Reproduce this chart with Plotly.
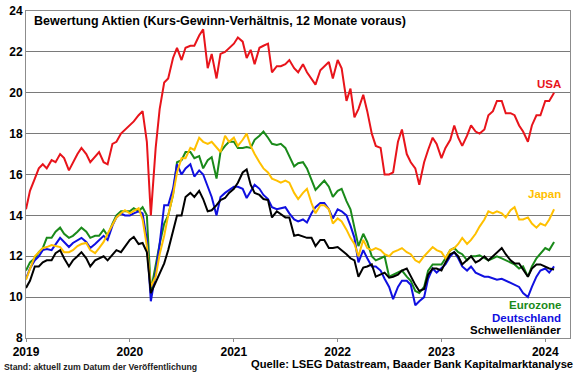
import plotly.graph_objects as go

# semi-monthly observation dates (1st and 15th), Jan 2019 .. Feb 2024
dates = []
for yr in range(2019, 2025):
    for mo in range(1, 13):
        for dd in (1, 15):
            d = f"{yr}-{mo:02d}-{dd:02d}"
            if d <= "2024-02-01":
                dates.append(d)

usa = [14.3, 15.2, 15.8, 16.3, 16.5, 16.3, 16.7, 16.6, 17.0, 16.8, 16.2, 16.6, 17.0, 17.3, 17.0, 16.6,
       16.9, 17.1, 16.6, 16.5, 17.5, 17.6, 18.0, 18.2, 18.4, 18.6, 18.9, 19.1, 17.6, 14.0, 17.3, 19.2,
       20.5, 20.7, 21.7, 22.2, 21.6, 22.2, 22.3, 22.3, 22.8, 23.1, 21.2, 21.9, 20.7, 21.9, 22.0, 22.2,
       22.4, 22.7, 22.5, 21.7, 22.1, 21.4, 22.2, 22.3, 22.4, 21.0, 21.3, 21.3, 21.4, 21.6, 21.2, 21.0,
       21.4, 21.0, 20.7, 20.4, 21.1, 21.3, 21.5, 20.7, 21.6, 21.2, 19.6, 20.2, 18.8, 19.2, 19.9, 19.1,
       18.0, 17.4, 17.3, 16.0, 16.0, 16.1, 17.6, 18.2, 17.0, 16.6, 16.3, 15.5, 16.6, 17.2, 17.8, 17.5,
       16.8, 17.3, 17.7, 18.4, 17.8, 17.4, 17.9, 18.4, 18.1, 18.0, 18.2, 18.9, 19.1, 19.6, 19.6, 19.0,
       19.0, 18.9, 18.4, 18.1, 17.6, 18.4, 18.9, 18.9, 19.6, 19.6, 20.0]

japan = [10.85, 11.4, 12.0, 12.2, 12.4, 12.45, 12.55, 12.5, 12.45, 12.2, 12.2, 12.3, 12.5, 12.6, 12.65, 12.3,
         12.15, 12.4, 12.7, 13.1, 13.5, 13.9, 14.1, 14.25, 14.1, 14.2, 14.35, 13.8, 12.5, 10.5, 11.0, 12.1,
         13.0, 14.0, 15.0, 16.1, 16.8, 16.8, 17.3, 17.2, 17.8, 17.6, 17.5, 17.6, 17.3, 17.1, 17.9, 17.6,
         17.8, 17.4, 17.7, 18.0, 17.4, 17.0, 16.6, 16.3, 16.1, 15.8, 15.7, 15.6, 15.7, 15.6, 15.1, 14.8,
         15.1, 15.3, 14.6, 14.1, 14.5, 14.5, 14.3, 13.6, 13.85, 13.7, 13.3, 12.9, 12.6, 12.0, 12.8, 12.4,
         12.3, 12.4, 12.3, 12.1, 12.0, 12.2, 12.3, 12.4, 12.2, 12.1, 11.8, 11.7, 12.0, 12.2, 12.45, 12.3,
         12.2, 11.9, 12.3, 12.4, 12.6, 12.9, 12.6, 12.8, 13.1, 13.45, 13.8, 14.2, 14.1, 14.2, 14.1, 13.9,
         14.25, 14.4, 13.8, 13.8, 13.9, 13.6, 13.4, 13.6, 13.5, 13.8, 14.3]

eurozone = [11.3, 11.7, 11.9, 12.2, 12.4, 12.9, 12.9, 13.2, 13.4, 13.1, 12.9, 13.0, 13.2, 13.4, 13.2, 12.9,
            13.0, 13.0, 13.3, 13.0, 13.6, 14.0, 14.2, 14.2, 14.2, 14.35, 14.2, 14.4, 14.0, 10.3, 11.6, 12.6,
            13.6, 14.0, 15.0, 16.6, 16.7, 17.1, 17.1, 16.8, 16.9, 16.3, 16.7, 16.85, 15.8, 17.1, 17.4, 17.6,
            17.6, 17.3, 17.3, 17.35, 17.3, 17.7, 17.9, 18.1, 17.8, 17.5, 17.45, 17.5, 17.3, 16.9, 16.4, 16.55,
            16.6, 16.3, 15.7, 15.25, 15.5, 15.7, 15.4, 14.9, 15.2, 15.3, 14.7, 14.3, 13.4, 12.5, 13.1, 12.7,
            12.0, 11.8, 11.9, 12.0, 11.0, 11.1, 11.2, 11.3, 11.0, 10.8, 10.3, 10.2, 10.5, 11.3, 11.6, 11.6,
            11.6, 11.9, 12.3, 12.4, 12.2, 12.1, 11.8, 12.0, 12.0, 12.05, 11.9, 11.8, 11.9, 12.0, 11.9, 11.8,
            11.7, 11.6, 11.4, 11.5, 11.0, 11.5, 11.9, 12.15, 12.4, 12.3, 12.7]

deutschland = [10.9, 11.4, 11.8, 12.0, 12.3, 12.35, 12.3, 12.6, 12.9, 12.7, 12.45, 12.65, 12.8, 12.9, 12.7, 12.4,
               12.6, 12.8, 13.0, 12.8, 13.5, 13.9, 14.1, 14.0, 14.0, 14.1, 14.2, 14.1, 12.8, 9.8, 11.2, 12.6,
               14.5, 14.5, 15.3, 16.5, 16.0, 16.3, 16.5, 15.9, 16.2, 16.0, 15.4, 14.9, 14.0, 14.9, 15.1, 15.25,
               15.4, 15.4, 15.3, 14.85, 15.2, 15.5, 15.3, 15.0, 14.8, 14.4, 14.3, 14.35, 14.4, 14.1, 13.8, 13.7,
               13.8, 13.65, 14.1, 14.4, 14.6, 14.6, 14.3, 13.85, 14.3, 14.2, 14.0, 13.5, 12.9, 11.7, 12.3, 11.9,
               11.5, 11.5, 11.3, 10.9, 10.5, 9.9, 10.5, 10.8, 10.8, 10.6, 9.6, 9.8, 10.0, 10.9, 11.4, 11.2,
               11.4, 11.6, 12.0, 12.2, 11.9, 11.5, 11.3, 11.5, 11.2, 11.1, 11.0, 11.0, 10.9, 10.85, 10.9, 10.8,
               10.7, 10.6, 10.5, 10.2, 10.0, 10.5, 11.0, 11.3, 11.4, 11.2, 11.5]

schwellenlaender = [10.45, 10.8, 11.5, 11.5, 11.7, 11.8, 11.8, 12.15, 12.3, 11.9, 11.5, 11.8, 12.0, 12.2, 11.9, 11.5,
                    11.8, 11.9, 12.0, 11.8, 12.1, 12.3, 12.2, 12.5, 12.8, 12.95, 12.6, 12.65, 12.2, 10.2, 10.7, 11.1,
                    11.65, 12.3, 13.2, 14.0, 14.0, 14.9, 15.1, 14.9, 15.2, 14.8, 14.2, 14.25, 14.5, 14.75, 14.85, 15.1,
                    15.3, 15.6, 16.1, 16.25, 15.5, 15.1, 15.0, 14.8, 14.75, 13.9, 14.2, 14.05, 13.9, 13.9, 13.0, 13.05,
                    12.95, 12.9, 12.9, 12.5, 12.8, 12.8, 12.4, 12.4, 12.45, 12.3, 12.1, 11.9, 11.8, 11.0, 11.45, 11.5,
                    11.6, 11.0, 11.1, 11.2, 10.95, 11.0, 11.1, 11.3, 11.4, 11.0, 10.6, 10.3, 10.4, 11.1, 11.4, 11.4,
                    11.3, 11.7, 12.1, 12.2, 12.0, 11.6, 11.8, 12.0, 11.7, 11.8, 12.0, 11.8, 12.0, 12.2, 12.4, 12.1,
                    11.8, 11.65, 11.65, 11.35, 11.0, 11.4, 11.6, 11.6, 11.5, 11.4, 11.35]

series_names = ["USA", "Japan", "Eurozone", "Deutschland", "Schwellenländer"]
series_colors = ["#E8141B", "#FFC000", "#1A8A1A", "#1010E0", "#000000"]
series_values = [usa, japan, eurozone, deutschland, schwellenlaender]

year_ticks = ["2019-01-01", "2020-01-01", "2021-01-01", "2022-01-01", "2023-01-01", "2024-01-01"]
year_labels = ["2019", "2020", "2021", "2022", "2023", "2024"]

FONT = "Liberation Sans, Arial, sans-serif"

fig = go.Figure()
draw_order = [2, 3, 1, 4, 0]
for i in draw_order:
    fig.add_trace(go.Scatter(x=dates, y=series_values[i], mode="lines", name=series_names[i],
                             line=dict(color=series_colors[i], width=2), showlegend=False,
                             hoverinfo="skip"))

fig.update_layout(
    width=580, height=375,
    margin=dict(l=26, r=10, t=11, b=37),
    paper_bgcolor="white", plot_bgcolor="white",
    font=dict(family=FONT, color="black"),
    showlegend=False,
)
fig.update_xaxes(
    type="date", range=["2019-01-01", "2024-03-28"], automargin=False,
    tickvals=year_ticks, ticktext=year_labels,
    tickfont=dict(size=12, family=FONT, weight="bold", color="black"),
    showgrid=False, showline=True, mirror=True, linecolor="#8c8c8c", linewidth=1,
    ticks="outside", ticklen=3, tickcolor="#8c8c8c",
)
fig.update_yaxes(
    range=[8, 24], dtick=2, tick0=8, automargin=False,
    tickfont=dict(size=12, family=FONT, weight="bold", color="black"),
    showgrid=True, gridcolor="#7a7a7a", gridwidth=1,
    showline=True, mirror=True, linecolor="#8c8c8c", linewidth=1,
    ticks="", zeroline=False,
)

ann = []
ann.append(dict(text="Bewertung Aktien (Kurs-Gewinn-Verhältnis, 12 Monate voraus)",
                xref="paper", yref="paper", x=0.011, y=0.969, xanchor="left", yanchor="middle",
                showarrow=False, font=dict(size=12.5, family=FONT, weight="bold", color="black")))
label_y = [0.777, 0.440, 0.101, 0.061, 0.024]
for name, col, ly in zip(series_names, series_colors, label_y):
    ann.append(dict(text=name, xref="paper", yref="paper", x=0.987, y=ly,
                    xanchor="right", yanchor="middle", showarrow=False,
                    font=dict(size=11.5, family=FONT, weight="bold", color=col)))
ann.append(dict(text="Stand: aktuell zum Datum der Veröffentlichung",
                xref="paper", yref="paper", x=-0.044, y=-0.089, xanchor="left", yanchor="middle",
                showarrow=False, font=dict(size=8.7, family=FONT, weight="bold", color="#222")))
ann.append(dict(text="Quelle: LSEG Datastream, Baader Bank Kapitalmarktanalyse",
                xref="paper", yref="paper", x=1.01, y=-0.080, xanchor="right", yanchor="middle",
                showarrow=False, font=dict(size=11.2, family=FONT, weight="bold", color="black")))
fig.update_layout(annotations=ann)

fig.write_html("out.html", config={"displayModeBar": False},
               post_script="document.body.style.margin='0';document.body.style.padding='0';")
